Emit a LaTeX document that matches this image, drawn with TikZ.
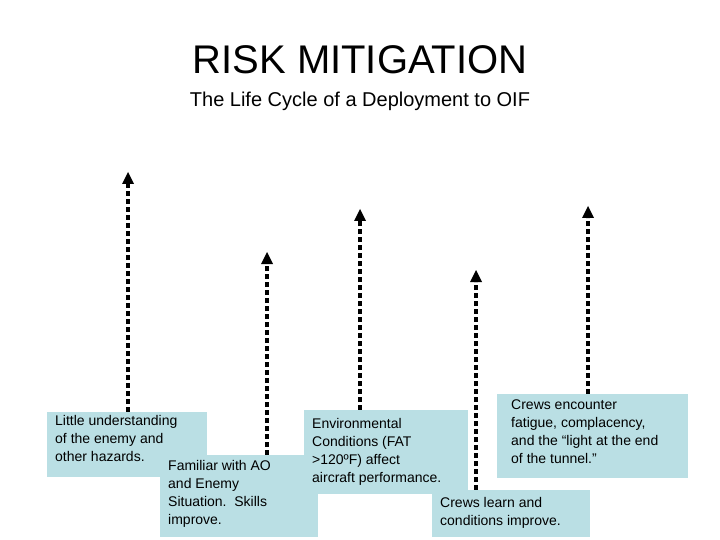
\documentclass[tikz,border=0pt]{standalone}
\usepackage{fontspec}
\setmainfont{Liberation Sans}
\usetikzlibrary{arrows.meta}
\begin{document}
\begin{tikzpicture}[x=1pt,y=-1pt,
  riser/.style={line width=4pt,dash pattern=on 5pt off 3pt,-{Triangle[length=12pt,width=12pt,line width=0pt]}},
  infobox/.style={fill=boxblue,draw=none,anchor=north west,align=left,inner xsep=7pt,inner ysep=0pt,
    font=\fontsize{14}{18}\selectfont,text depth=0pt}]
\definecolor{boxblue}{HTML}{BADFE4}
\useasboundingbox (0,0) rectangle (720,540);
\node (title) at (360,60) {\fontsize{40}{44}\selectfont RISK MITIGATION};
\node (sub) at (360,101) {\fontsize{20}{24}\selectfont The Life Cycle of a Deployment to OIF};
% boxes as rectangles then text
\coordinate (a1) at (128,412); \coordinate (t1) at (128,172);
\coordinate (a2) at (267,455); \coordinate (t2) at (267,252);
\coordinate (a3) at (360,410); \coordinate (t3) at (360,209);
\coordinate (a4) at (476,490); \coordinate (t4) at (476,270);
\coordinate (a5) at (588,394); \coordinate (t5) at (588,206);
\draw[riser] (a1) -- (t1);
\draw[riser] (a2) -- (t2);
\draw[riser] (a3) -- (t3);
\draw[riser] (a4) -- (t4);
\draw[riser] (a5) -- (t5);
\fill[boxblue] (47,412) rectangle (207,477);
\node[anchor=north west,align=left,inner sep=0pt,font=\fontsize{14}{18}\selectfont] (b1) at (55,415) {Little understanding\\of the enemy and\\other hazards.};
\fill[boxblue] (160,455) rectangle (318,537);
\node[anchor=north west,align=left,inner sep=0pt,font=\fontsize{14}{18}\selectfont] (b2) at (168,460) {Familiar with AO\\and Enemy\\Situation.\ \ Skills\\improve.};
\fill[boxblue] (304,410) rectangle (468,494);
\node[anchor=north west,align=left,inner sep=0pt,font=\fontsize{14}{18}\selectfont] (b3) at (312,418) {Environmental\\Conditions (FAT\\>120ºF) affect\\aircraft performance.};
\fill[boxblue] (432,490) rectangle (590,537);
\node[anchor=north west,align=left,inner sep=0pt,font=\fontsize{14}{18}\selectfont] (b4) at (440,497) {Crews learn and\\conditions improve.};
\fill[boxblue] (497,394) rectangle (688,478);
\node[anchor=north west,align=left,inner sep=0pt,font=\fontsize{14}{18}\selectfont] (b5) at (511,400) {Crews encounter\\fatigue, complacency,\\and the “light at the end\\of the tunnel.”};
\end{tikzpicture}
\end{document}
